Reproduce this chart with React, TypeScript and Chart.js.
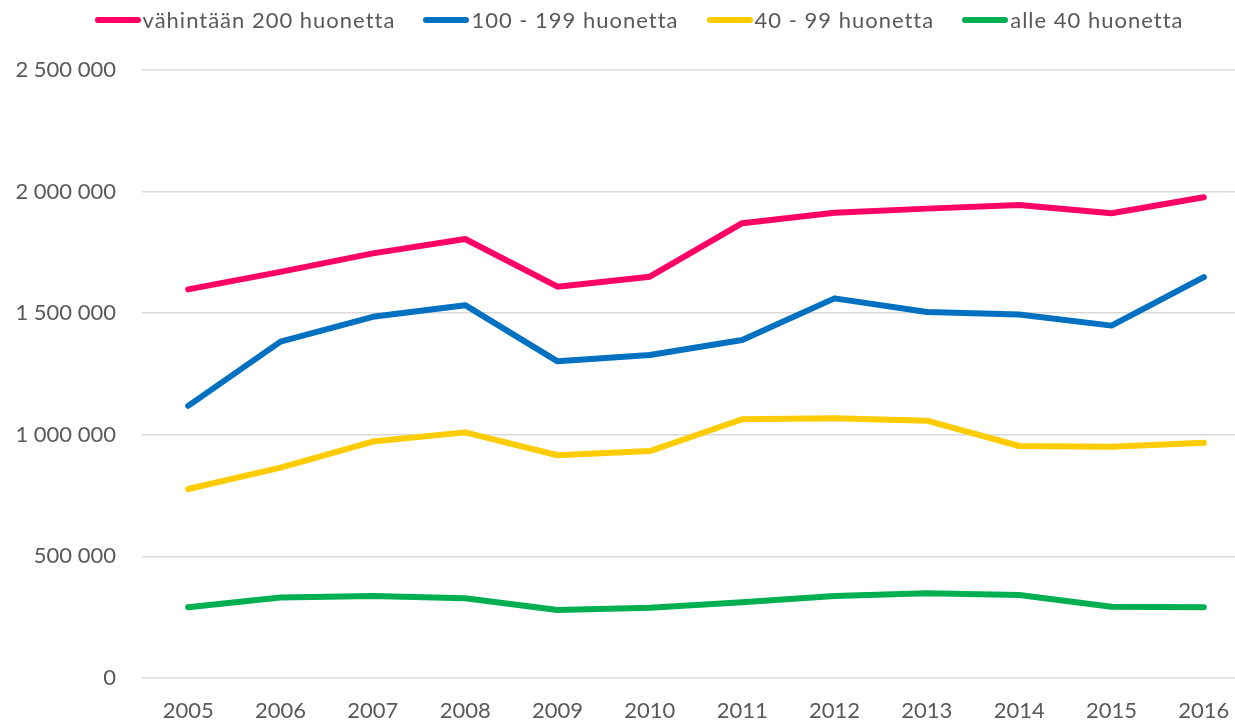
import React, { useEffect, useRef } from "react";
import { Chart, registerables } from "chart.js";

Chart.register(...registerables);

const years = ["2005", "2006", "2007", "2008", "2009", "2010", "2011", "2012", "2013", "2014", "2015", "2016"];

const seriesNames = ["vähintään 200 huonetta", "100 - 199 huonetta", "40 - 99 huonetta", "alle 40 huonetta"];
const seriesColors = ["#FF0066", "#0070C0", "#FFCC00", "#00B050"];

const over200 = [1598000, 1670000, 1746000, 1805000, 1609000, 1650000, 1870000, 1913000, 1930000, 1945000, 1911000, 1977000];
const from100to199 = [1119000, 1383000, 1485000, 1533000, 1302000, 1328000, 1390000, 1561000, 1505000, 1495000, 1449000, 1648000];
const from40to99 = [777000, 865000, 972000, 1010000, 916000, 933000, 1064000, 1068000, 1058000, 954000, 951000, 967000];
const under40 = [291000, 331000, 337000, 328000, 280000, 289000, 311000, 337000, 348000, 341000, 293000, 291000];

const yTicks = [0, 500000, 1000000, 1500000, 2000000, 2500000];

const FONT = "Lato, 'Open Sans', sans-serif";
const TEXT_COLOR = "#595959";

function fmt(v: number): string {
  return String(Math.round(v)).replace(/\B(?=(\d{3})+(?!\d))/g, " ");
}

export default function App() {
  const canvasRef = useRef<HTMLCanvasElement | null>(null);

  useEffect(() => {
    const canvas = canvasRef.current;
    if (!canvas) return;
    const values = [over200, from100to199, from40to99, under40];
    const chart = new Chart(canvas, {
      type: "line",
      data: {
        labels: years,
        datasets: values.map((d, i) => ({
          label: seriesNames[i],
          data: d,
          borderColor: seriesColors[i],
          backgroundColor: seriesColors[i],
          borderWidth: 6,
          borderCapStyle: "round" as const,
          borderJoinStyle: "round" as const,
          pointRadius: 0,
          pointHoverRadius: 0,
          tension: 0,
          fill: false,
        })),
      },
      options: {
        responsive: false,
        animation: false,
        maintainAspectRatio: false,
        layout: { padding: { top: 70, left: 0, right: 0, bottom: 0 } },
        plugins: {
          legend: { display: false },
          tooltip: { enabled: false },
        },
        scales: {
          x: {
            type: "category",
            offset: true,
            grid: { display: false, drawTicks: false },
            border: { display: false },
            ticks: {
              color: TEXT_COLOR,
              font: { family: FONT, size: 22 },
              padding: 20,
              maxRotation: 0,
              autoSkip: false,
            },
            afterFit: (scale: any) => {
              scale.height = 47;
            },
          },
          y: {
            min: 0,
            max: 2500000,
            grid: { color: "#d9d9d9", lineWidth: 1.5, drawTicks: false },
            border: { display: false },
            afterBuildTicks: (scale: any) => {
              scale.ticks = yTicks.map((v) => ({ value: v }));
            },
            ticks: {
              color: TEXT_COLOR,
              font: { family: FONT, size: 22 },
              padding: 26,
              callback: (v: any) => fmt(Number(v)),
            },
            afterFit: (scale: any) => {
              scale.width = 142;
            },
          },
        },
      },
    });
    return () => chart.destroy();
  }, []);

  return (
    <div style={{ position: "fixed", left: 0, top: 0, width: 1235, height: 725, overflow: "hidden", background: "#fff" }}>
      <canvas ref={canvasRef} width={1250} height={725} style={{ position: "absolute", left: 0, top: 0, width: 1250, height: 725 }} />
      <div
        style={{
          position: "absolute",
          left: 0,
          top: 6,
          width: 1278,
          display: "flex",
          justifyContent: "center",
          alignItems: "center",
          fontFamily: FONT,
          fontSize: 22,
          letterSpacing: "1px",
          color: TEXT_COLOR,
          whiteSpace: "nowrap",
          lineHeight: "28px",
        }}
      >
        {seriesNames.map((name, i) => (
          <div key={name} style={{ display: "flex", alignItems: "center", marginLeft: i === 0 ? 0 : 28 }}>
            <span style={{ display: "inline-block", width: 46, height: 6, borderRadius: 3, background: seriesColors[i], marginRight: 2 }} />
            <span>{name}</span>
          </div>
        ))}
      </div>
    </div>
  );
}
